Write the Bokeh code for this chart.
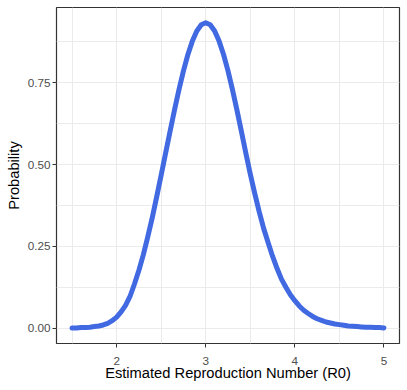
from bokeh.plotting import figure
from bokeh.models import Range1d, FixedTicker, NumeralTickFormatter
from bokeh.embed import file_html
from bokeh.resources import INLINE

# Estimated reproduction number (R0) values and their probabilities
r0 = [1.50, 1.55, 1.60, 1.65, 1.70, 1.75, 1.80, 1.85, 1.90, 1.95,
      2.00, 2.05, 2.10, 2.15, 2.20, 2.25, 2.30, 2.35, 2.40, 2.45,
      2.50, 2.55, 2.60, 2.65, 2.70, 2.75, 2.80, 2.85, 2.90, 2.95,
      3.00, 3.05, 3.10, 3.15, 3.20, 3.25, 3.30, 3.35, 3.40, 3.45,
      3.50, 3.55, 3.60, 3.65, 3.70, 3.75, 3.80, 3.85, 3.90, 3.95,
      4.00, 4.05, 4.10, 4.15, 4.20, 4.25, 4.30, 4.35, 4.40, 4.45,
      4.50, 4.55, 4.60, 4.65, 4.70, 4.75, 4.80, 4.85, 4.90, 4.95,
      5.00]
prob = [0.001, 0.001, 0.002, 0.002, 0.003, 0.005, 0.007, 0.010, 0.015, 0.023,
        0.034, 0.050, 0.070, 0.097, 0.135, 0.177, 0.225, 0.280, 0.338, 0.402,
        0.468, 0.535, 0.602, 0.667, 0.729, 0.786, 0.836, 0.877, 0.908, 0.927,
        0.933, 0.927, 0.908, 0.877, 0.836, 0.786, 0.729, 0.667, 0.602, 0.535,
        0.471, 0.412, 0.356, 0.305, 0.262, 0.220, 0.183, 0.150, 0.125, 0.102,
        0.084, 0.068, 0.055, 0.045, 0.036, 0.029, 0.024, 0.019, 0.016, 0.013,
        0.011, 0.009, 0.007, 0.006, 0.005, 0.004, 0.003, 0.003, 0.002, 0.002,
        0.001]

x_ticks = [2, 3, 4, 5]
x_minor = [1.5, 2.5, 3.5, 4.5]
y_ticks = [0.0, 0.25, 0.5, 0.75]
y_minor = [0.125, 0.375, 0.625, 0.875]

xmin, xmax = min(r0), max(r0)
ymin, ymax = 0.0, max(prob)
xpad = (xmax - xmin) * 0.05
ypad = (ymax - ymin) * 0.05

p = figure(width=407, height=388, output_backend="svg", toolbar_location=None,
           x_range=Range1d(xmin - xpad, xmax + xpad),
           y_range=Range1d(ymin - ypad, ymax + ypad),
           min_border_left=56, min_border_right=8, min_border_top=7, min_border_bottom=45)

p.background_fill_color = "white"
p.border_fill_color = "white"
p.outline_line_color = "#333333"
p.outline_line_width = 1.2

p.xaxis.ticker = FixedTicker(ticks=x_ticks, minor_ticks=x_minor)
p.yaxis.ticker = FixedTicker(ticks=y_ticks, minor_ticks=y_minor)
p.xaxis.formatter = NumeralTickFormatter(format="0")
p.yaxis.formatter = NumeralTickFormatter(format="0.00")

for ax in (p.xaxis, p.yaxis):
    ax.axis_line_color = None
    ax.major_tick_in = 0
    ax.major_tick_out = 4
    ax.major_tick_line_color = "#333333"
    ax.major_tick_line_width = 1
    ax.minor_tick_in = 0
    ax.minor_tick_out = 0
    ax.major_label_text_font = "Liberation Sans"
    ax.major_label_text_font_size = "11.7px"
    ax.major_label_text_color = "#4D4D4D"
    ax.axis_label_text_font = "Liberation Sans"
    ax.axis_label_text_font_size = "14.7px"
    ax.axis_label_text_font_style = "normal"
    ax.axis_label_text_color = "black"

p.xaxis.major_label_standoff = 9
p.xaxis.axis_label_standoff = -3
p.yaxis.major_label_standoff = 2
p.yaxis.axis_label_standoff = 3

p.xaxis.axis_label = "Estimated Reproduction Number (R0)"
p.yaxis.axis_label = "Probability"

for g in (p.xgrid, p.ygrid):
    g.grid_line_color = "#EBEBEB"
    g.grid_line_width = 1
    g.minor_grid_line_color = "#EBEBEB"
    g.minor_grid_line_width = 1

p.line(r0, prob, line_width=5, line_color="#4169E1", line_cap="round", line_join="round")

open("out.html", "w").write(file_html(p, INLINE))
